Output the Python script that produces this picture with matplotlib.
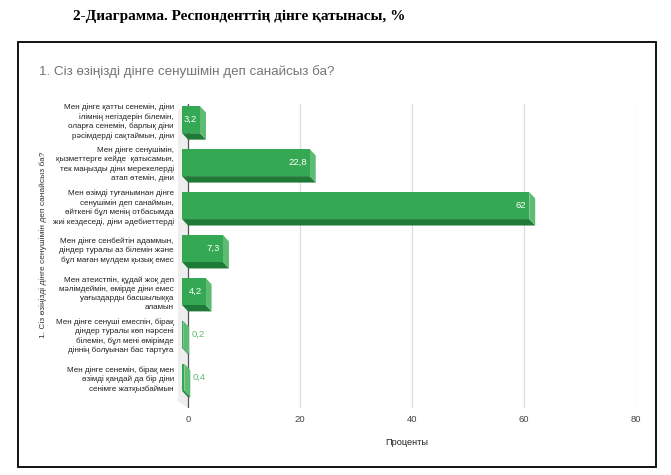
import numpy as np
import matplotlib.pyplot as plt
from matplotlib.patches import Polygon, Rectangle

plt.rcParams['font.family'] = ['Liberation Sans', 'DejaVu Sans']

# Данные
categories = [
    "Мен дінге қатты сенемін, діни\nілімнің негіздерін білемін,\nоларға сенемін, барлық діни\nрәсімдерді сақтаймын, діни",
    "Мен дінге сенушімін,\nқызметтерге кейде  қатысамын,\nтек маңызды діни мерекелерді\nатап өтемін, діни",
    "Мен өзімді туғанымнан дінге\nсенушімін деп санаймын,\nөйткені бұл менің отбасымда\nжиі кездеседі, діни әдебиеттерді",
    "Мен дінге сенбейтін адаммын,\nдіндер туралы аз білемін және\nбұл маған мүлдем қызық емес",
    "Мен атеистпін, құдай жоқ деп\nмәлімдеймін, өмірде діни емес\nуағыздарды басшылыққа\nаламын",
    "Мен дінге сенуші емеспін, бірақ\nдіндер туралы көп нәрсені\nбілемін, бұл мені өмірімде\nдіннің болуынан бас тартуға",
    "Мен дінге сенемін, бірақ мен\nөзімді қандай да бір діни\nсенімге жатқызбаймын",
]
values = [3.2, 22.8, 62, 7.3, 4.2, 0.2, 0.4]
xticks = [0, 20, 40, 60, 80]

front = '#34a853'
bottom_c = '#1f7a37'
side_c = '#5dbb73'

fig = plt.figure(figsize=(6.71, 4.75), dpi=100)

# Заголовок документа и рамка
fig.text(73 / 671, 1 - 16 / 475, "2-Диаграмма. Респонденттің дінге қатынасы, %",
         family=['Liberation Serif', 'DejaVu Serif'], fontweight='bold',
         fontsize=11, ha='left', va='center', color='black')
fig.patches.append(Rectangle((18 / 671, 1 - 467 / 475), 638 / 671, 425 / 475,
                             transform=fig.transFigure, fill=False,
                             edgecolor='black', linewidth=1.3))
fig.text(39 / 671, 1 - 72 / 475, "1. Сіз өзіңізді дінге сенушімін деп санайсыз ба?",
         fontsize=9.6, color='#757575', ha='left', va='center')

ax = fig.add_axes([178 / 671, 1 - 408 / 475, 458 / 671, 304 / 475])

ylo, yhi = 6.64, -0.44
ax.set_xlim(-1.8, 80)
ax.set_ylim(ylo, yhi)

dx = 1.07     # глубина по x (данные)
dy = 0.15     # глубина по y
top_off = 0.39
front_h = 0.63

# стенка
ax.add_patch(Polygon([(-1.8, yhi + 0.15), (0, yhi), (0, ylo), (-1.8, ylo - 0.15)],
                     closed=True, facecolor='#eeeeee', edgecolor='none', zorder=0))

for x in xticks[1:]:
    ax.axvline(x, color='#dddddd', lw=0.9, zorder=0.5)
ax.axvline(0, color='#555555', lw=0.9, zorder=0.6)

pos = np.arange(len(values))
ax.barh(pos - top_off + front_h / 2, values, height=front_h, left=-dx,
        color=front, edgecolor='none', zorder=3)

for c, v in zip(pos, values):
    t = c - top_off
    b = t + front_h
    ax.add_patch(Polygon([(v - dx, t), (v, t + dy), (v, b + dy), (v - dx, b)],
                         closed=True, facecolor=side_c, edgecolor='none', zorder=2.9))
    ax.add_patch(Polygon([(-dx, b), (v - dx, b), (v, b + dy), (0, b + dy)],
                         closed=True, facecolor=bottom_c, edgecolor='none', zorder=2.8))
    label = f"{v:g}".replace('.', ',')
    yc = t + front_h / 2
    if v >= 2:
        ax.text(v - dx - 0.55, yc, label, color='white', fontsize=6.8,
                ha='right', va='center', zorder=4)
    else:
        ax.text(v + 0.5, yc, label, color='#5cb870', fontsize=6.8,
                ha='left', va='center', zorder=4)

ax.set_yticks(pos - top_off + front_h / 2)
ax.set_yticklabels(categories, fontsize=5.8, color='#222222', linespacing=1.3)
ax.set_xticks(xticks)
ax.set_xticklabels([str(x) for x in xticks], fontsize=6.8, color='#444444')
ax.tick_params(axis='both', length=0)
ax.tick_params(axis='y', pad=3)
ax.tick_params(axis='x', pad=5)
for s in ax.spines.values():
    s.set_visible(False)

ax.set_xlabel("Проценты", fontsize=6.6, color='#222222', labelpad=10)
fig.text(43 / 671, 1 - 245 / 475, "1. Сіз өзіңізді дінге сенушімін деп санайсыз ба?",
         rotation=90, fontsize=6.0, color='#333333', ha='center', va='center')

fig.savefig('out.png', dpi=100)
